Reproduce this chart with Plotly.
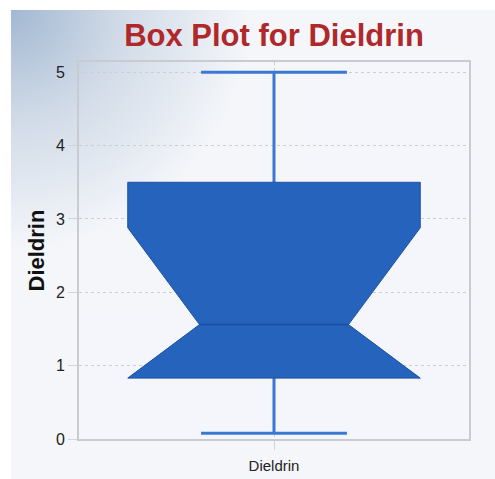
import plotly.graph_objects as go
import urllib.parse

# ---- data ----
categories = ["Dieldrin"]
minimum = [0.08]
q1 = [0.83]
median = [1.56]
q3 = [3.50]
maximum = [5.0]
notch_high = [2.88]
y_ticks = [0, 1, 2, 3, 4, 5]

# ---- styles ----
BOX_HALF = 0.375
NOTCH_HALF = 0.191
CAP_HALF = 0.187
BOX_FILL = "#2563bd"
BOX_EDGE = "#1d52a3"
WHISKER = "#3a78d4"
BG = "#f4f6fa"

W, H = 495, 479
L, R, T, B = 79, 26, 62, 40
pw, ph = W - L - R, H - T - B

fig = go.Figure()

for i, cat in enumerate(categories):
    x0 = i
    nh = notch_high[i]
    nl = max(q1[i], median[i] - (nh - median[i]))
    # whiskers
    fig.add_trace(go.Scatter(
        x=[x0, x0, None, x0, x0, None,
           x0 - CAP_HALF, x0 + CAP_HALF, None, x0 - CAP_HALF, x0 + CAP_HALF],
        y=[q3[i], maximum[i], None, q1[i], minimum[i], None,
           maximum[i], maximum[i], None, minimum[i], minimum[i]],
        mode="lines", line=dict(color=WHISKER, width=3),
        hoverinfo="skip", showlegend=False))
    # notched box
    xs = [x0 - BOX_HALF, x0 + BOX_HALF, x0 + BOX_HALF, x0 + NOTCH_HALF,
          x0 + BOX_HALF, x0 + BOX_HALF, x0 - BOX_HALF, x0 - BOX_HALF,
          x0 - NOTCH_HALF, x0 - BOX_HALF, x0 - BOX_HALF]
    ys = [q3[i], q3[i], nh, median[i], nl, q1[i], q1[i], nl,
          median[i], nh, q3[i]]
    fig.add_trace(go.Scatter(
        x=xs, y=ys, mode="lines", fill="toself", fillcolor=BOX_FILL,
        line=dict(color=BOX_EDGE, width=1), hoverinfo="skip", showlegend=False))
    # median line
    fig.add_trace(go.Scatter(
        x=[x0 - NOTCH_HALF, x0 + NOTCH_HALF], y=[median[i], median[i]],
        mode="lines", line=dict(color="#1c4e9c", width=1.5),
        hoverinfo="skip", showlegend=False))

# background gradient (top-left corner) as inline svg
bx0, by0 = 11, 10
gw, gh = 300, 300
svg = (
    f"<svg xmlns='http://www.w3.org/2000/svg' width='{gw}' height='{gh}' "
    f"viewBox='0 0 {gw} {gh}' preserveAspectRatio='none'>"
    "<defs><radialGradient id='g' cx='0' cy='0' r='240' gradientUnits='userSpaceOnUse'>"
    "<stop offset='0' stop-color='#a2b8d2'/>"
    "<stop offset='0.45' stop-color='#d0dae7'/>"
    f"<stop offset='1' stop-color='{BG}'/>"
    "</radialGradient></defs>"
    f"<rect width='{gw}' height='{gh}' fill='url(#g)'/>"
    "</svg>"
)
src = "data:image/svg+xml;charset=utf-8," + urllib.parse.quote(svg)

fig.add_layout_image(dict(
    source=src, xref="paper", yref="paper",
    x=(bx0 - L) / pw, y=(H - B - by0) / ph,
    sizex=gw / pw, sizey=gh / ph,
    xanchor="left", yanchor="top", sizing="stretch", layer="below"))

# white outer strips at top and left
fig.add_shape(type="rect", xref="paper", yref="paper",
              x0=-L / pw, x1=(W - L) / pw, y0=(H - B - by0) / ph, y1=(H - B) / ph,
              fillcolor="white", line_width=0, layer="below")
fig.add_shape(type="rect", xref="paper", yref="paper",
              x0=-L / pw, x1=(bx0 - L) / pw, y0=-B / ph, y1=(H - B) / ph,
              fillcolor="white", line_width=0, layer="below")

fig.add_annotation(
    text="<b>Dieldrin</b>", textangle=-90, xref="paper", yref="paper",
    x=(36 - L) / pw, y=0.5, showarrow=False, xanchor="center", yanchor="middle",
    font=dict(family="Liberation Sans, Arial", size=22, color="#111111"))

fig.update_layout(
    width=W, height=H, autosize=False,
    margin=dict(l=L, r=R, t=T, b=B, autoexpand=False),
    paper_bgcolor=BG,
    plot_bgcolor="#f5f6fb",
    title=dict(text="<b>Box Plot for Dieldrin</b>", x=(L + pw / 2) / W, xanchor="center",
               y=1 - 35 / H, yanchor="middle", yref="container",
               font=dict(family="Liberation Sans, Arial", size=31, color="#b0282a")),
    xaxis=dict(range=[-0.5, 0.5], tickvals=list(range(len(categories))), ticktext=categories,
               automargin=False,
               showgrid=True, gridcolor="#cfcfcf", griddash="dot", gridwidth=1,
               showline=True, linecolor="#c8ccd0", linewidth=2, mirror=True,
               ticks="outside", ticklen=9, tickcolor="#d4d4d4", tickwidth=1,
               ticklabelstandoff=3,
               tickfont=dict(family="Liberation Sans, Arial", size=15, color="#222222"),
               zeroline=False, fixedrange=True),
    yaxis=dict(range=[0, 5.14], tickvals=y_ticks, automargin=False,
               showgrid=True, gridcolor="#cfcfcf", griddash="dot", gridwidth=1,
               showline=True, linecolor="#c8ccd0", linewidth=2, mirror=True,
               ticks="outside", ticklen=9, tickcolor="#d4d4d4", tickwidth=1,
               tickfont=dict(family="Liberation Sans, Arial", size=16, color="#222222"),
               zeroline=False, fixedrange=True),
)

fig.write_html(
    "out.html",
    config={"displayModeBar": False},
    post_script="document.body.style.margin='0';document.documentElement.style.overflow='hidden';",
)
